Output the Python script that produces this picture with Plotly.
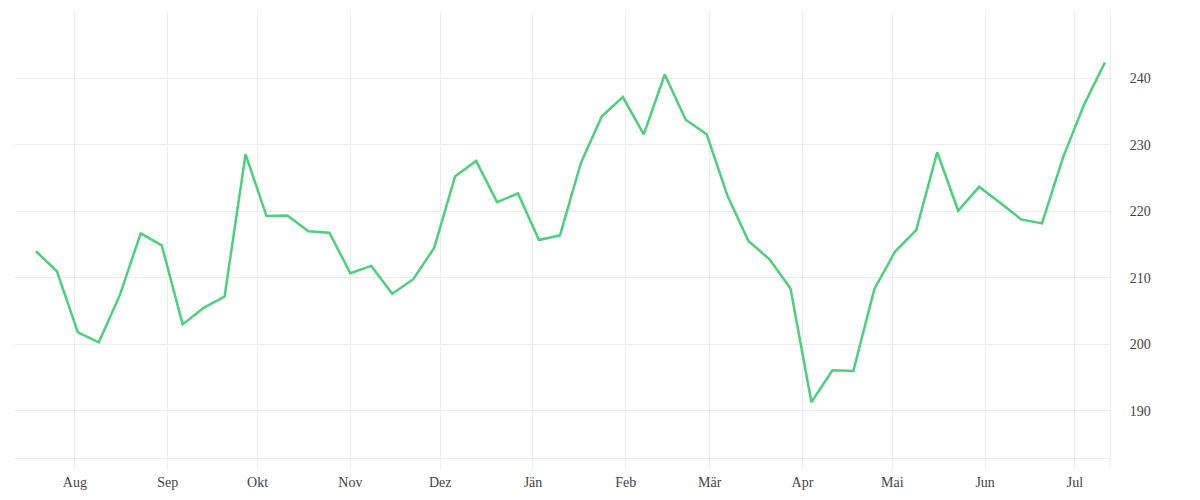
import pandas as pd
import plotly.graph_objects as go

# weekly values
dates = pd.date_range("2021-07-19", periods=52, freq="7D")
values = [214.0, 211.0, 201.8, 200.3, 207.4, 216.7, 214.9, 203.0, 205.5, 207.2,
          228.6, 219.3, 219.4, 217.0, 216.8, 210.7, 211.8, 207.6, 209.8, 214.5,
          225.3, 227.6, 221.4, 222.7, 215.7, 216.4, 227.3, 234.3, 237.2, 231.6,
          240.6, 233.8, 231.6, 222.3, 215.5, 212.8, 208.4, 191.3, 196.1, 196.0,
          208.3, 214.0, 217.2, 228.9, 220.1, 223.7, 221.3, 218.8, 218.2, 228.1,
          236.0, 242.4]

month_ticks = pd.date_range("2021-08-01", periods=12, freq="MS")
month_labels = ["Aug", "Sep", "Okt", "Nov", "Dez", "Jän",
                "Feb", "Mär", "Apr", "Mai", "Jun", "Jul"]
y_ticks = [190, 200, 210, 220, 230, 240]

grid = "#ececec"

fig = go.Figure()
fig.add_trace(go.Scatter(x=dates, y=values, mode="lines",
                         line=dict(color="#4cd07c", width=2.5),
                         showlegend=False))

# page body adds 8px, so margins are a bit smaller than the picture shows
fig.update_layout(
    width=1200, height=500,
    margin=dict(l=7, r=98, t=4, b=50),
    paper_bgcolor="white", plot_bgcolor="white",
    font=dict(family="Liberation Serif", size=14, color="#444444"),
)
fig.update_xaxes(
    range=["2021-07-12", "2022-07-12 17:00"],
    tickvals=month_ticks, ticktext=month_labels,
    showgrid=True, gridcolor=grid, gridwidth=1,
    ticks="outside", ticklen=10, tickcolor=grid,
    showline=True, linecolor=grid, zeroline=False,
    ticklabelstandoff=1,
)
fig.update_yaxes(
    side="right", range=[182.9, 250],
    tickvals=y_ticks,
    showgrid=True, gridcolor=grid, gridwidth=1,
    showline=True, linecolor=grid, zeroline=False,
    ticks="", ticklabelstandoff=16,
)
# right border runs down past the axis like the month ticks
fig.add_shape(type="line", xref="paper", yref="paper",
              x0=1, x1=1, y0=0, y1=-10 / 446,
              line=dict(color=grid, width=1))

fig.write_html("out.html")
